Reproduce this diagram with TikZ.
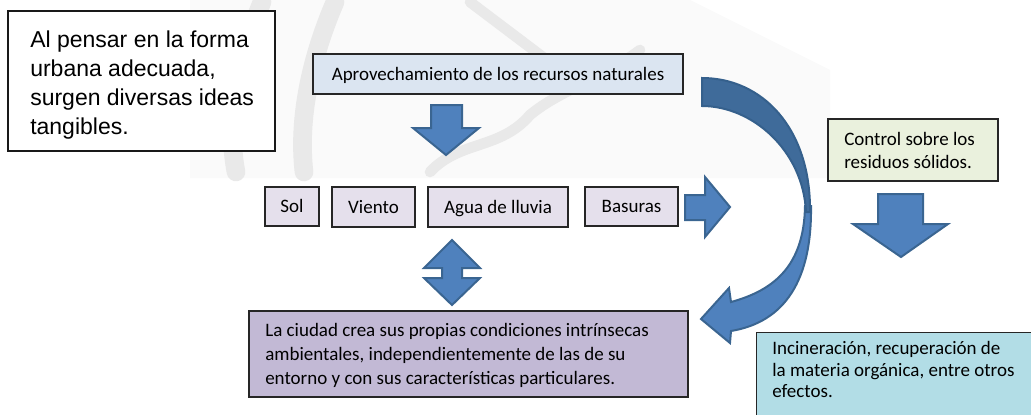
\documentclass[tikz,border=0pt]{standalone}
\usepackage{fontspec}
\setmainfont{Carlito}
\newfontfamily\arialfont{Liberation Sans}
\definecolor{arrowfill}{HTML}{4F81BD}
\definecolor{arrowline}{HTML}{3A6591}
\definecolor{arrowdark}{HTML}{3F6B9A}
\definecolor{arrowdarkline}{HTML}{35608C}
\definecolor{topfill}{HTML}{DBE5F1}
\definecolor{itemfill}{HTML}{E5E0EC}
\definecolor{cityfill}{HTML}{C2B9D5}
\definecolor{ctrlfill}{HTML}{EAF1DD}
\definecolor{incfill}{HTML}{B2DDE6}
\definecolor{wmark}{HTML}{E9E9E9}
\tikzset{
  box/.style={draw=black!85, line width=1pt, inner sep=0pt, font=\fontsize{14.25pt}{17.25pt}\selectfont},
  onelabel/.style={text height=12pt, text depth=2.8pt},
  para/.style={inner sep=0pt, anchor=north west, align=left},
  blockarrow/.style={fill=arrowfill, draw=arrowline, line width=1.5pt, line join=miter},
  darkarrow/.style={fill=arrowdark, draw=arrowdarkline, line width=1.5pt, line join=miter},
  wstroke/.style={draw=wmark, line width=14pt, line cap=round}
}
\begin{document}
\begin{tikzpicture}[x=0.75pt, y=-0.75pt]
\useasboundingbox (0,0) rectangle (1031,414);
% faint watermark
\fill[gray!4] (190,0) -- (690,0) -- (830,70) -- (830,178) -- (190,178) -- cycle;
\draw[wstroke] (262,2) .. controls (238,60) and (226,120) .. (236,172);
\draw[wstroke] (335,2) .. controls (310,60) and (298,120) .. (304,172);
\draw[wstroke, line width=8pt] (470,2) -- (560,70);
\draw[wstroke, line width=8pt] (430,172) .. controls (460,140) and (500,150) .. (530,115) .. controls (560,90) and (600,80) .. (640,50);
% intro box
\node[draw=black!90, line width=1.1pt, fill=white, inner sep=0pt, minimum width=200.25pt, minimum height=105pt] (intro) at (141.5,81) {};
\node[para, font=\arialfont\fontsize{17.25pt}{21.75pt}\selectfont] (introtext) at (30,31)
  {Al pensar en la forma\\urbana adecuada,\\surgen diversas ideas\\tangibles.};
% top box
\node[box, onelabel, fill=topfill, minimum width=277.5pt, minimum height=30pt] (top) at (498,74)
  {Aprovechamiento de los recursos naturales};
% items
\node[box, onelabel, fill=itemfill, minimum width=40.5pt, minimum height=29.25pt] (sol) at (292,206.5) {Sol};
\node[box, onelabel, fill=itemfill, minimum width=62.25pt, minimum height=30pt] (viento) at (373.5,207) {Viento};
\node[box, onelabel, fill=itemfill, minimum width=105pt, minimum height=30pt] (agua) at (498,207) {Agua de lluvia};
\node[box, onelabel, fill=itemfill, minimum width=69.75pt, minimum height=29.25pt] (basuras) at (631.5,206.5) {Basuras};
% city box
\node[box, fill=cityfill, minimum width=329.25pt, minimum height=64.5pt] (city) at (468.5,354) {};
\node[para, font=\fontsize{14.25pt}{18pt}\selectfont] (citytext) at (265,323)
  {La ciudad crea sus propias condiciones intrínsecas\\ambientales, independientemente de las de su\\entorno y con sus características particulares.};
% control box
\node[box, fill=ctrlfill, minimum width=127.5pt, minimum height=46.5pt] (ctrl) at (913,150) {};
\node[para, font=\fontsize{14.25pt}{16.6pt}\selectfont] (ctrltext) at (844,132.5)
  {Control sobre los\\residuos sólidos.};
% incineration box
\node[box, fill=incfill, minimum width=213pt, minimum height=66pt, anchor=north west] (incbox) at (756,332) {};
\node[para, font=\fontsize{14.25pt}{16.3pt}\selectfont] (inctext) at (772,341)
  {Incineración, recuperación de\\la materia orgánica, entre otros\\efectos.};
% block arrows
\path[blockarrow] (431,105) -- (462,105) -- (462,128) -- (479,128) -- (446,155) -- (413,128) -- (431,128) -- cycle;
\path[blockarrow] (685,195) -- (705,195) -- (705,177) -- (730,207) -- (705,237) -- (705,220) -- (685,220) -- cycle;
\path[blockarrow] (452,240) -- (480,268) -- (462,268) -- (462,278) -- (480,278) -- (452,305) -- (424,278) -- (442,278) -- (442,268) -- (424,268) -- cycle;
\path[blockarrow] (878,194) -- (923,194) -- (923,224) -- (948,224) -- (901,257) -- (853,224) -- (878,224) -- cycle;
% curved arrow
\path[blockarrow] (805,206) .. controls (804,265) and (775,290) .. (731,302) -- (729,288) -- (701,319) -- (730,343) -- (731,331) .. controls (785,322) and (812,280) .. (811,206) -- cycle;
\path[darkarrow] (702,78) .. controls (762,78) and (811,128) .. (810,212) -- (806,212) .. controls (803,150) and (752,106) .. (702,106) -- cycle;
\end{tikzpicture}
\end{document}
